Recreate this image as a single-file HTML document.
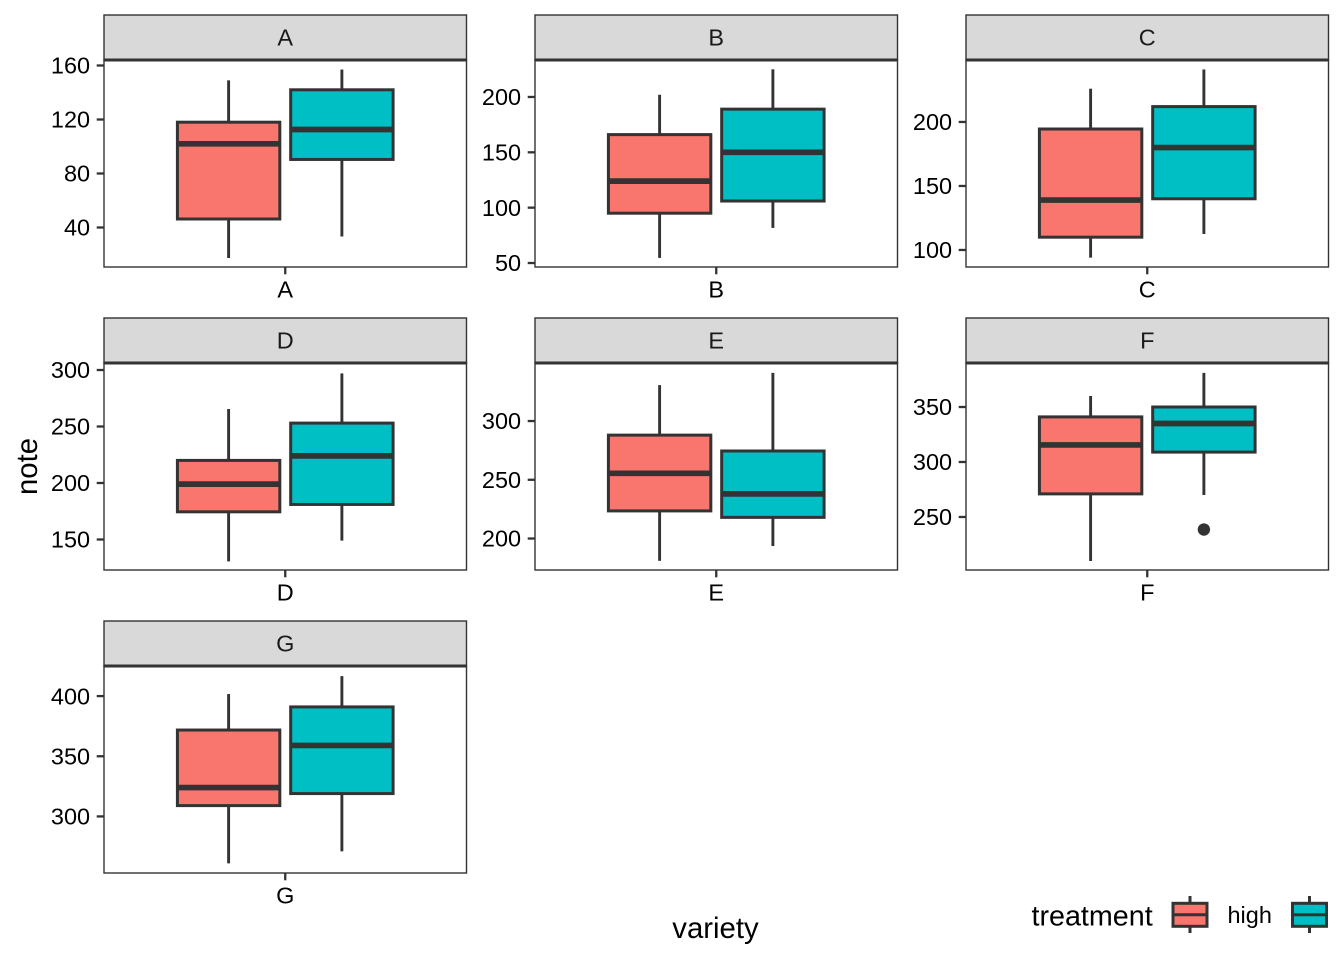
<!DOCTYPE html>
<html>
<head>
<meta charset="utf-8">
<title>Boxplots of note by variety and treatment</title>
<style>
html,body{margin:0;padding:0;background:#fff;}
svg{display:block;}
text{font-family:"Liberation Sans",sans-serif;}
</style>
</head>
<body>
<svg id="chart" xmlns="http://www.w3.org/2000/svg" width="1344" height="960" viewBox="0 0 1344 960">
  <rect x="0" y="0" width="1344" height="960" fill="#ffffff"/>
  <g id="panels"></g>
  <text transform="translate(37 466.5) rotate(-90)" text-anchor="middle" font-size="29.33" fill="#000">note</text>
  <text x="715.5" y="938" text-anchor="middle" font-size="29.33" fill="#000">variety</text>
  <g>
    <text x="1031.5" y="925.5" font-size="28.7" fill="#000">treatment</text>
    <g>
      <line x1="1190" x2="1190" y1="896" y2="933" stroke="#333" stroke-width="3"/>
      <rect x="1173" y="903.3" width="34" height="23" fill="#F8766D" stroke="#333" stroke-width="3"/>
      <line x1="1173" x2="1207" y1="914.8" y2="914.8" stroke="#333" stroke-width="3"/>
    </g>
    <text x="1227.5" y="923" font-size="23.47" fill="#000">high</text>
    <g>
      <line x1="1309.5" x2="1309.5" y1="896" y2="933" stroke="#333" stroke-width="3"/>
      <rect x="1292.5" y="903.3" width="34" height="23" fill="#00BFC4" stroke="#333" stroke-width="3"/>
      <line x1="1292.5" x2="1326.5" y1="914.8" y2="914.8" stroke="#333" stroke-width="3"/>
    </g>
  </g>
</svg>
<script>
// Categories (one facet per variety)
const varieties = ['A', 'B', 'C', 'D', 'E', 'F', 'G'];

// Free y-axis limits per facet, in data units
const yMin = [10.74, 46.4, 86.7, 123, 173.2, 201.8, 253];
const yMax = [164.07, 233.4, 248.4, 306.2, 349.4, 390, 425];

// Tick labels per facet
const yTicks = [
  [40, 80, 120, 160],
  [50, 100, 150, 200],
  [100, 150, 200],
  [150, 200, 250, 300],
  [200, 250, 300],
  [250, 300, 350],
  [300, 350, 400]
];

// Treatment "high" (red) box statistics
const highWhiskerLow = [17.4, 54.6, 94, 130.6, 181, 210, 261];
const highQ1 = [46.3, 95, 110, 174.5, 223.5, 271, 309];
const highMedian = [102, 124, 139, 199, 255.5, 315.5, 324];
const highQ3 = [118, 166, 194.5, 220, 288, 341, 371.8];
const highWhiskerHigh = [149, 202, 226, 265.5, 330.6, 360, 401.7];

// Second treatment (teal) box statistics
const secondWhiskerLow = [33.3, 81.7, 112.5, 149, 193.6, 270, 271];
const secondQ1 = [90.4, 106, 140, 181, 218, 309, 319];
const secondMedian = [112.6, 150, 180, 224, 238, 335, 359];
const secondQ3 = [142, 189, 212, 253, 274.5, 350, 391];
const secondWhiskerHigh = [157, 225, 241, 297, 341, 381, 416.6];
const secondOutliers = [[], [], [], [], [], [238.6], []];

// Layout constants
const SVG_NS = 'http://www.w3.org/2000/svg';
const PANEL_W = 362.5, PANEL_H = 207, STRIP_H = 45;
const COL_X = [104, 535, 966];
const ROW_TOP = [60, 363, 666];
const INK = '#333333';
const root = document.getElementById('panels');

function el(tag, parent, attrs) {
  const node = document.createElementNS(SVG_NS, tag);
  for (const k in attrs) node.setAttribute(k, attrs[k]);
  parent.appendChild(node);
  return node;
}

function drawBox(g, sx, sy, center, wl, q1, med, q3, wh, fill, key) {
  const halfW = sx(0.1695) - sx(0);
  const whiskerHigh = el('line', g, {x1: center, x2: center, y1: sy(q3), y2: sy(wh), stroke: INK, 'stroke-width': 2.9});
  
  
  const whiskerLow = el('line', g, {x1: center, x2: center, y1: sy(q1), y2: sy(wl), stroke: INK, 'stroke-width': 2.9});
  
  
  const box = el('rect', g, {x: center - halfW, y: sy(q3), width: 2 * halfW, height: sy(q1) - sy(q3), fill: fill, stroke: INK, 'stroke-width': 3});
  
  
  const median = el('line', g, {x1: center - halfW, x2: center + halfW, y1: sy(med), y2: sy(med), stroke: INK, 'stroke-width': 5.7});
  
  
}

varieties.forEach(function (name, i) {
  const left = COL_X[i % 3];
  const top = ROW_TOP[Math.floor(i / 3)];
  const bottom = top + PANEL_H;
  const mid = left + PANEL_W / 2;
  const sy = function (v) { return bottom - (v - yMin[i]) / (yMax[i] - yMin[i]) * PANEL_H; };
  // discrete x-axis: one category spanning 1.2 units of panel width
  const sx = function (u) { return mid + u * PANEL_W / 1.2; };

  const g = el('g', root, {});
  
  

  const bg = el('rect', g, {x: left, y: top, width: PANEL_W, height: PANEL_H, fill: '#ffffff'});
  
  

  drawBox(g, sx, sy, sx(-0.1875), highWhiskerLow[i], highQ1[i], highMedian[i], highQ3[i], highWhiskerHigh[i], '#F8766D', 'high-' + name);
  drawBox(g, sx, sy, sx(0.1875), secondWhiskerLow[i], secondQ1[i], secondMedian[i], secondQ3[i], secondWhiskerHigh[i], '#00BFC4', 'second-' + name);

  secondOutliers[i].forEach(function (v) {
    const dot = el('circle', g, {cx: sx(0.1875), cy: sy(v), r: 6.2, fill: INK});
    
    
  });

  const border = el('rect', g, {x: left, y: top, width: PANEL_W, height: PANEL_H, fill: 'none', stroke: INK, 'stroke-width': 1.4});
  
  

  const strip = el('rect', g, {x: left, y: top - STRIP_H, width: PANEL_W, height: STRIP_H, fill: '#D9D9D9', stroke: INK, 'stroke-width': 1.4});
  
  

  const rule = el('line', g, {x1: left, x2: left + PANEL_W, y1: top, y2: top, stroke: INK, 'stroke-width': 3});
  
  

  const stripLabel = el('text', g, {x: mid, y: top - 14.5, 'text-anchor': 'middle', 'font-size': 23.47, fill: '#1A1A1A'});
  stripLabel.textContent = name;
  
  

  yTicks[i].forEach(function (t) {
    const tick = el('line', g, {x1: left - 7.3, x2: left, y1: sy(t), y2: sy(t), stroke: INK, 'stroke-width': 2.3});
    
    
    const label = el('text', g, {x: left - 13.9, y: sy(t) + 8.2, 'text-anchor': 'end', 'font-size': 23.47, fill: '#000000'});
    label.textContent = String(t);
    
    
  });

  const xTick = el('line', g, {x1: mid, x2: mid, y1: bottom, y2: bottom + 7.3, stroke: INK, 'stroke-width': 2.3});
  
  
  const xLabel = el('text', g, {x: mid, y: bottom + 30.5, 'text-anchor': 'middle', 'font-size': 23.47, fill: '#000000'});
  xLabel.textContent = name;
  
  
});
</script>
</body>
</html>
